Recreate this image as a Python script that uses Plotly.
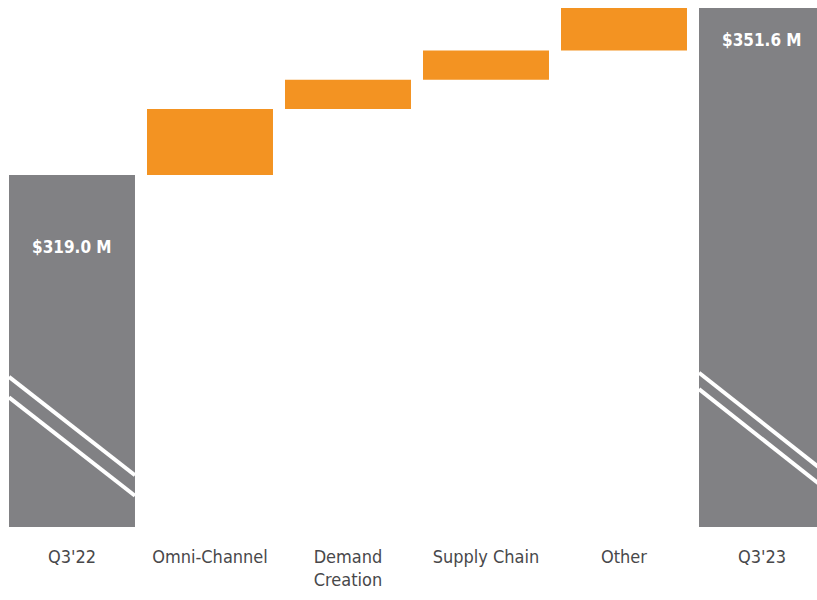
import plotly.graph_objects as go

categories = ["Q3'22", "Omni-Channel", "Demand<br>Creation", "Supply Chain", "Other", "Q3'23"]
start_value = 319.0
changes = [12.9, 5.7, 5.7, 8.3]
end_value = 351.6
axis_floor = 250.3
bar_labels = ["$319.0 M", "$351.6 M"]

GRAY = "#818184"
ORANGE = "#F39322"
LABEL = "#48484A"
FONT = "DejaVu Sans Condensed, Roboto, Liberation Sans"

# compute bar bases / heights
bases = [axis_floor]
heights = [start_value - axis_floor]
running = start_value
for c in changes:
    bases.append(running)
    heights.append(c)
    running += c
bases.append(axis_floor)
heights.append(end_value - axis_floor)
colors = [GRAY] + [ORANGE] * len(changes) + [GRAY]

fig = go.Figure()
fig.add_trace(go.Bar(
    x=categories, y=heights, base=bases,
    marker=dict(color=colors, line=dict(width=0)),
    hoverinfo="skip",
))

# value labels inside the total bars
fig.add_annotation(x=categories[0], y=start_value - 14.1, text="<b>" + bar_labels[0] + "</b>", showarrow=False,
                   font=dict(family=FONT, size=17, color="white"),
                   xanchor="center", yanchor="middle")
fig.add_annotation(x=categories[-1], y=end_value - 6.3, text="<b>" + bar_labels[1] + "</b>", showarrow=False,
                   font=dict(family=FONT, size=17, color="white"),
                   xanchor="center", yanchor="middle")

# axis-break double diagonal lines on the total bars
hw = 0.4565
def brk(ix, y1, y2, shift):
    for off in (0, shift):
        fig.add_shape(type="line", xref="x", yref="y",
                      x0=ix - hw, x1=ix + hw, y0=y1 - off, y1=y2 - off,
                      line=dict(color="white", width=4), layer="above")

brk(0, 279.6, 260.4, 4.0)
brk(5, 280.4, 261.0, 3.2)

fig.update_layout(
    width=817, height=600,
    margin=dict(l=0, r=0, t=0, b=73),
    paper_bgcolor="white", plot_bgcolor="white",
    showlegend=False,
    bargap=0.087,
    xaxis=dict(range=[-0.5217, 5.3986], showgrid=False, zeroline=False, showline=False,
               ticks="", tickfont=dict(family=FONT, size=18, color=LABEL),
               ticklabelstandoff=17),
    yaxis=dict(range=[axis_floor, 353.16], visible=False, showgrid=False, zeroline=False),
)

fig.write_html("out.html")
